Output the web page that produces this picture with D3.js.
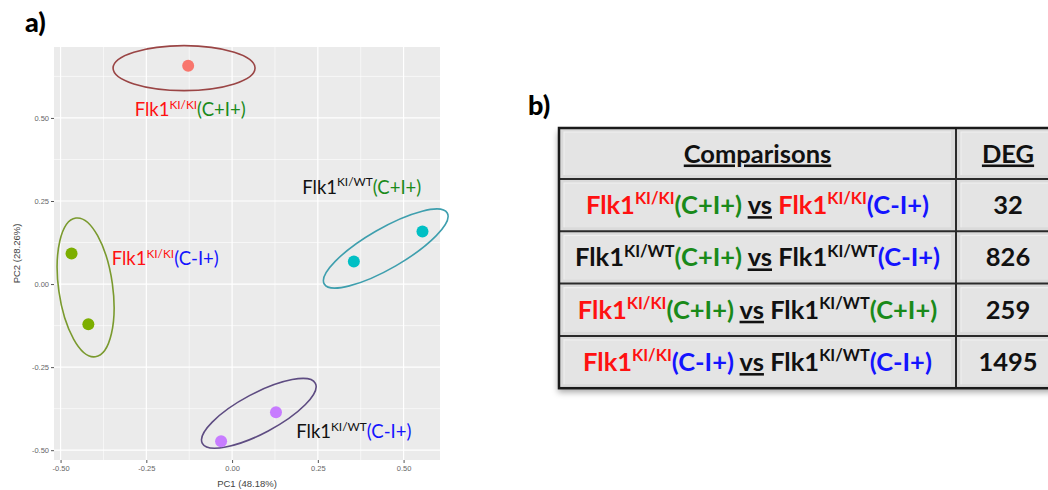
<!DOCTYPE html>
<html>
<head>
<meta charset="utf-8">
<script src="https://cdn.jsdelivr.net/npm/d3@7"></script>
<style>
  body { margin: 0; background: #fff; }
  svg { display: block; }
  .tick text { font-family: "Liberation Sans", Arial, sans-serif; }
</style>
</head>
<body>
<div id="fig"></div>
<script>
// ---- data ----
const pc1 = [-0.128, -0.468, -0.419, 0.555, 0.355, 0.128, -0.032];
const pc2 = [0.657, 0.092, -0.121, 0.158, 0.068, -0.386, -0.473];
const sampleGroup = [0, 1, 1, 2, 2, 3, 3];
const groupNames = ["KI/KI C+I+", "KI/KI C-I+", "KI/WT C+I+", "KI/WT C-I+"];
const groupColors = ["#F8766D", "#7CAE00", "#00BFC4", "#C77CFF"];
const xTicks = [-0.5, -0.25, 0, 0.25, 0.5];
const yTicks = [-0.5, -0.25, 0, 0.25, 0.5];
const xTitle = "PC1 (48.18%)";
const yTitle = "PC2 (28.26%)";

// hand drawn ellipses (centre in PC units)
const ellipseX = [-0.140, -0.427, 0.448, 0.078];
const ellipseY = [0.650, -0.010, 0.107, -0.389];
// label anchors (PC units, left / baseline)
const labelX = [-0.284, -0.351, 0.2045, 0.187];
const labelY = [0.507, 0.056, 0.2725, -0.464];

// table
const tableHeader = ["Comparisons", "DEG"];
const degValues = [32, 826, 259, 1495];

const RED = "#FF1111", GREEN = "#1A8A1A", BLUE = "#1414FF", BLACK = "#111111";
const KIKI = [["Flk1", RED], ["KI/KI", RED, "sup"]];
const KIWT = [["Flk1", BLACK], ["KI/WT", BLACK, "sup"]];
const CpIp = ["(C+I+)", GREEN];
const CmIp = ["(C-I+)", BLUE];
const groupLabels = [
  [...KIKI, CpIp],
  [...KIKI, CmIp],
  [...KIWT, CpIp],
  [...KIWT, CmIp]
];
const VS = [[" ", BLACK], ["vs", BLACK, "u"], [" ", BLACK]];
const comparisons = [
  [...KIKI, CpIp, ...VS, ...KIKI, CmIp],
  [...KIWT, CpIp, ...VS, ...KIWT, CmIp],
  [...KIKI, CpIp, ...VS, ...KIWT, CpIp],
  [...KIKI, CmIp, ...VS, ...KIWT, CmIp]
];

// ---- layout ----
const W = 1048, H = 490;
const panel = { left: 54, right: 440, top: 47, bottom: 460 };

const svg = d3.select("#fig").append("svg")
  .attr("width", W).attr("height", H)
  .style("background", "#fff");

const defs = svg.append("defs");
const f = defs.append("filter").attr("id", "shadow")
  .attr("x", "-5%").attr("y", "-5%").attr("width", "110%").attr("height", "115%");
f.append("feDropShadow").attr("dx", -1).attr("dy", 4)
  .attr("stdDeviation", 3).attr("flood-color", "#000").attr("flood-opacity", 0.35);

// ggplot-like 5% expansion
function expand(vals) {
  const [a, b] = d3.extent(vals);
  const m = (b - a) * 0.05;
  return [a - m, b + m];
}
const x = d3.scaleLinear().domain(expand(pc1)).range([panel.left, panel.right]);
const y = d3.scaleLinear().domain(expand(pc2)).range([panel.bottom, panel.top]);

// panel a)
svg.append("text").attr("x", 25).attr("y", 32)
  .attr("font-family", "Lato, sans-serif").attr("font-weight", 900)
  .attr("font-size", 27).text("a)");

svg.append("rect")
  .attr("x", panel.left).attr("y", panel.top)
  .attr("width", panel.right - panel.left).attr("height", panel.bottom - panel.top)
  .attr("fill", "#EBEBEB");

const xMinor = d3.range(-0.625, 0.7, 0.25).filter(v => v > x.domain()[0] && v < x.domain()[1]);
const yMinor = d3.range(-0.625, 0.8, 0.25).filter(v => v > y.domain()[0] && v < y.domain()[1]);
const grid = svg.append("g");
grid.selectAll(".xminor").data(xMinor).join("line")
  .attr("x1", d => x(d)).attr("x2", d => x(d))
  .attr("y1", panel.top).attr("y2", panel.bottom)
  .attr("stroke", "#fff").attr("stroke-width", 0.6);
grid.selectAll(".yminor").data(yMinor).join("line")
  .attr("y1", d => y(d)).attr("y2", d => y(d))
  .attr("x1", panel.left).attr("x2", panel.right)
  .attr("stroke", "#fff").attr("stroke-width", 0.6);
grid.selectAll(".xmajor").data(xTicks).join("line")
  .attr("x1", d => x(d)).attr("x2", d => x(d))
  .attr("y1", panel.top).attr("y2", panel.bottom)
  .attr("stroke", "#fff").attr("stroke-width", 1.2);
grid.selectAll(".ymajor").data(yTicks).join("line")
  .attr("y1", d => y(d)).attr("y2", d => y(d))
  .attr("x1", panel.left).attr("x2", panel.right)
  .attr("stroke", "#fff").attr("stroke-width", 1.2);

const fmt = d => d.toFixed(2);
const xAxis = svg.append("g").attr("transform", `translate(0,${panel.bottom})`)
  .call(d3.axisBottom(x).tickValues(xTicks).tickFormat(fmt).tickSize(3).tickPadding(3));
const yAxis = svg.append("g").attr("transform", `translate(${panel.left},0)`)
  .call(d3.axisLeft(y).tickValues(yTicks).tickFormat(fmt).tickSize(3).tickPadding(2));
[xAxis, yAxis].forEach(a => {
  a.select(".domain").remove();
  a.selectAll(".tick line").attr("stroke", "#555").attr("stroke-width", 1);
  a.selectAll(".tick text").attr("fill", "#666").attr("font-size", 7.5);
});

svg.append("text").attr("x", (panel.left + panel.right) / 2).attr("y", 487)
  .attr("text-anchor", "middle").attr("font-family", "Liberation Sans, Arial, sans-serif")
  .attr("font-size", 9.5).attr("fill", "#444").text(xTitle);
svg.append("text")
  .attr("transform", `translate(20,${(panel.top + panel.bottom) / 2}) rotate(-90)`)
  .attr("text-anchor", "middle").attr("font-family", "Liberation Sans, Arial, sans-serif")
  .attr("font-size", 9.5).attr("fill", "#444").text(yTitle);

// ellipse shapes: [rx, ry, rotation] in px, and stroke colour
const ellipseShape = [[71, 22.5, 0], [27, 70, -8], [71, 20, -30], [64, 20, -28]];
const ellipseStroke = ["#9A4545", "#7A9A2E", "#3E9FAE", "#5E4C82"];
svg.append("g").selectAll("ellipse").data(groupNames).join("ellipse")
  .attr("transform", (d, i) => `translate(${x(ellipseX[i])},${y(ellipseY[i])}) rotate(${ellipseShape[i][2]})`)
  .attr("rx", (d, i) => ellipseShape[i][0])
  .attr("ry", (d, i) => ellipseShape[i][1])
  .attr("fill", "none")
  .attr("stroke", (d, i) => ellipseStroke[i])
  .attr("stroke-width", 1.6);

svg.append("g").selectAll("circle").data(pc1).join("circle")
  .attr("cx", d => x(d))
  .attr("cy", (d, i) => y(pc2[i]))
  .attr("r", 6)
  .attr("fill", (d, i) => groupColors[sampleGroup[i]]);

// rich text helper: segments [text, colour, flag]
function richText(sel, segs, fs) {
  let raised = false;
  segs.forEach(s => {
    const t = sel.append("tspan").text(s[0]).attr("fill", s[1]);
    if (s[2] === "sup") {
      t.attr("font-size", fs * 0.64).attr("dy", -fs * 0.38);
      raised = true;
    } else {
      if (raised) { t.attr("dy", fs * 0.38); raised = false; }
      if (s[2] === "u") t.attr("text-decoration", "underline");
    }
  });
}

const labelFs = 18.5;
groupLabels.forEach((segs, i) => {
  const t = svg.append("text")
    .attr("x", x(labelX[i])).attr("y", y(labelY[i]))
    .attr("font-family", "Lato, sans-serif").attr("font-size", labelFs)
    .style("white-space", "pre");
  richText(t, segs, labelFs);
});

// panel b) table
svg.append("text").attr("x", 528).attr("y", 115)
  .attr("font-family", "Lato, sans-serif").attr("font-weight", 900)
  .attr("font-size", 27).text("b)");

const tbl = { left: 559, split: 956, right: 1060, top: 128, headH: 51, rowH: 52.3 };
const rowTops = [tbl.top, ...degValues.map((d, i) => tbl.top + tbl.headH + i * tbl.rowH)];
const tBottom = tbl.top + tbl.headH + degValues.length * tbl.rowH;
const tg = svg.append("g");
tg.append("rect").attr("x", tbl.left).attr("y", tbl.top)
  .attr("width", tbl.right - tbl.left).attr("height", tBottom - tbl.top)
  .attr("fill", "#DADADA").attr("filter", "url(#shadow)");

const cells = [];
rowTops.forEach((top, r) => {
  const h = r === 0 ? tbl.headH : tbl.rowH;
  cells.push([tbl.left, tbl.split, top, h]);
  cells.push([tbl.split, tbl.right, top, h]);
});
tg.selectAll(".cell").data(cells).join("rect")
  .attr("x", d => d[0] + 5).attr("y", d => d[2] + 4)
  .attr("width", d => d[1] - d[0] - 10).attr("height", d => d[3] - 8)
  .attr("fill", "#E4E4E4");
tg.selectAll(".hl").data(cells).join("path")
  .attr("d", d => `M${d[0] + 5},${d[2] + d[3] - 4}V${d[2] + 4}H${d[1] - 5}`)
  .attr("fill", "none").attr("stroke", "#EFEFEF").attr("stroke-width", 1.2);

// lines
tg.selectAll(".hline").data(rowTops.slice(1)).join("line")
  .attr("x1", tbl.left).attr("x2", tbl.right)
  .attr("y1", d => d).attr("y2", d => d)
  .attr("stroke", "#2A2A2A").attr("stroke-width", 2);
tg.append("line").attr("x1", tbl.split).attr("x2", tbl.split)
  .attr("y1", tbl.top).attr("y2", tBottom)
  .attr("stroke", "#2A2A2A").attr("stroke-width", 2);
tg.append("rect").attr("x", tbl.left).attr("y", tbl.top)
  .attr("width", tbl.right - tbl.left).attr("height", tBottom - tbl.top)
  .attr("fill", "none").attr("stroke", "#1A1A1A").attr("stroke-width", 2.5);

const c1 = (tbl.left + tbl.split) / 2, c2 = (tbl.split + tbl.right) / 2;
const tfs = 25.5;
tableHeader.forEach((h, i) => {
  tg.append("text").attr("x", i === 0 ? c1 : c2).attr("y", tbl.top + tbl.headH / 2 + 9)
    .attr("text-anchor", "middle").attr("font-family", "Lato, sans-serif")
    .attr("font-weight", 700).attr("font-size", tfs).attr("fill", BLACK)
    .attr("text-decoration", "underline").text(h);
});
comparisons.forEach((segs, r) => {
  const cy = rowTops[r + 1] + tbl.rowH / 2 + 9;
  const t = tg.append("text").attr("x", c1).attr("y", cy)
    .attr("text-anchor", "middle").attr("font-family", "Lato, sans-serif")
    .attr("font-weight", 700).attr("font-size", tfs)
    .style("white-space", "pre");
  richText(t, segs, tfs);
  tg.append("text").attr("x", c2).attr("y", cy)
    .attr("text-anchor", "middle").attr("font-family", "Lato, sans-serif")
    .attr("font-weight", 700).attr("font-size", tfs).attr("fill", BLACK)
    .text(degValues[r]);
});
</script>
</body>
</html>
